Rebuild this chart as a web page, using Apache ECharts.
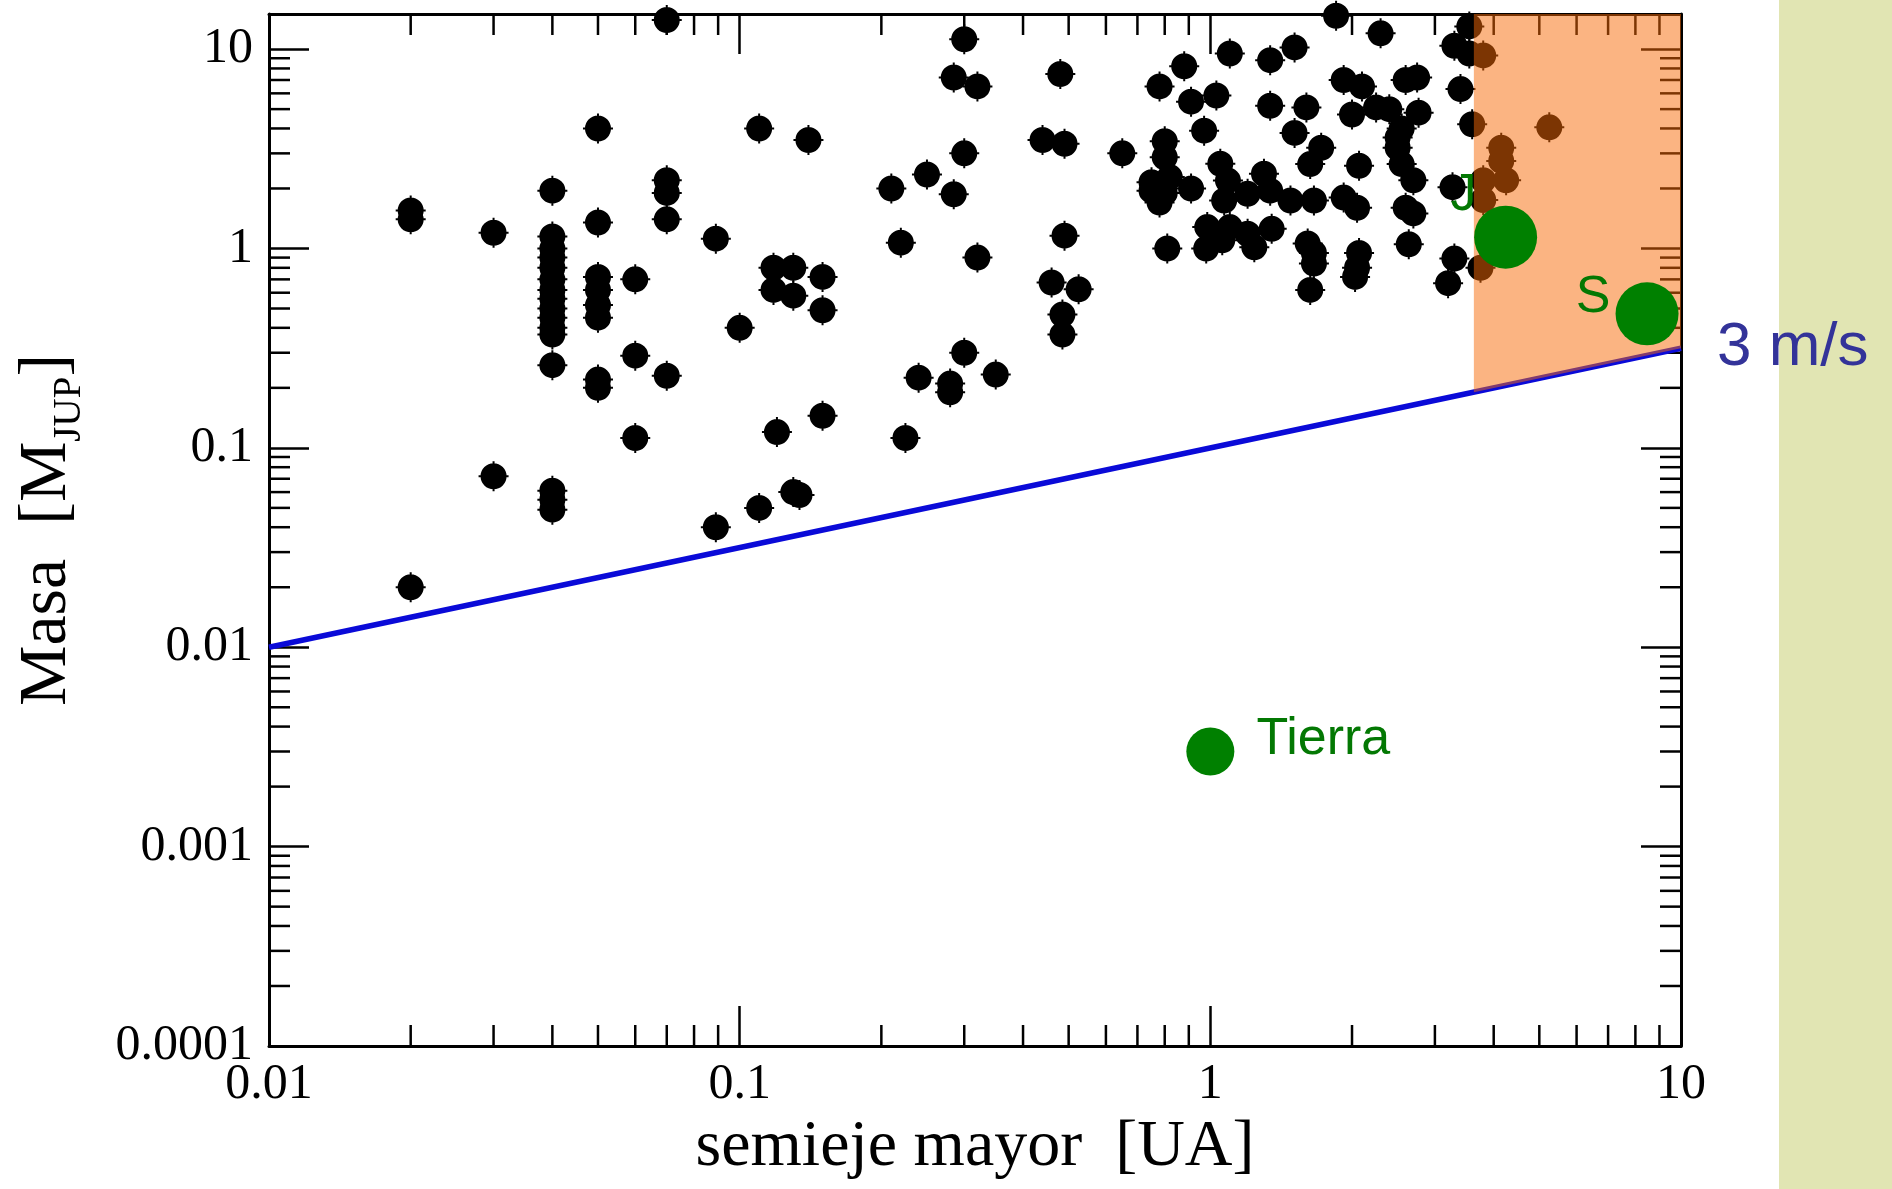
<!DOCTYPE html>
<html>
<head>
<meta charset="utf-8">
<script src="https://cdn.jsdelivr.net/npm/echarts@6/dist/echarts.min.js"></script>
<style>
html,body{margin:0;padding:0;background:#fff;}
#chart{width:1892px;height:1189px;}
</style>
</head>
<body>
<div id="chart"></div>
<script>
// ---------------- DATA ----------------
const xTickLabels = ['0.01', '0.1', '1', '10'];
const yTickLabels = ['0.0001', '0.001', '0.01', '0.1', '1', '10'];
const xMinorTicks = [0.02,0.03,0.04,0.05,0.06,0.07,0.08,0.09,
                     0.2,0.3,0.4,0.5,0.6,0.7,0.8,0.9,
                     2,3,4,5,6,7,8,9];
const yMinorTicks = [0.0002,0.0003,0.0004,0.0005,0.0006,0.0007,0.0008,0.0009,
                     0.002,0.003,0.004,0.005,0.006,0.007,0.008,0.009,
                     0.02,0.03,0.04,0.05,0.06,0.07,0.08,0.09,
                     0.2,0.3,0.4,0.5,0.6,0.7,0.8,0.9,
                     2,3,4,5,6,7,8,9];
const xRange = [0.01, 10];
const yRange = [0.0001, 15];

// exoplanets: [semieje mayor (UA), masa (M_JUP)]
const exoplanets = [
  [0.02,1.4],[0.02,1.55],[0.02,0.02],
  [0.03,1.2],[0.03,0.072],
  [0.04,1.95],[0.04,1.15],[0.04,1.0],[0.04,0.9],[0.04,0.8],[0.04,0.7],[0.04,0.62],[0.04,0.56],
  [0.04,0.5],[0.04,0.45],[0.04,0.4],[0.04,0.37],[0.04,0.26],[0.04,0.061],[0.04,0.055],[0.04,0.049],
  [0.05,4.0],[0.05,1.35],[0.05,0.72],[0.05,0.62],[0.05,0.52],[0.05,0.45],[0.05,0.22],[0.05,0.2],
  [0.06,0.7],[0.06,0.29],[0.06,0.112],
  [0.07,14],[0.07,2.2],[0.07,1.9],[0.07,1.4],[0.07,0.23],
  [0.089,1.12],[0.089,0.04],[0.1,0.4],[0.11,4.0],[0.11,0.05],
  [0.118,0.8],[0.13,0.8],[0.118,0.62],[0.13,0.58],[0.12,0.12],[0.13,0.06],[0.134,0.058],
  [0.14,3.5],[0.15,0.72],[0.15,0.49],[0.15,0.145],
  [0.21,2.0],[0.22,1.07],[0.225,0.112],[0.24,0.225],[0.25,2.35],[0.28,0.21],[0.28,0.19],
  [0.285,7.2],[0.285,1.87],[0.3,11.2],[0.3,3.0],[0.3,0.3],[0.32,6.5],[0.32,0.9],[0.35,0.233],
  [0.44,3.5],[0.49,3.35],[0.46,0.675],[0.525,0.625],[0.485,0.466],[0.485,0.37],[0.48,7.5],[0.49,1.16],[0.65,3.0],
  [0.78,6.5],[0.88,8.2],[0.91,5.45],[0.97,3.9],[0.8,3.45],[0.8,2.87],[0.75,2.15],[0.82,2.28],[0.91,2.0],
  [0.78,1.7],[0.8,1.9],[0.75,1.95],[0.81,1.0],[0.98,1.0],[0.985,1.28],
  [1.03,5.85],[1.1,9.5],[1.34,8.8],[1.51,10.2],[1.34,5.2],[1.6,5.1],[1.05,2.66],[1.09,2.19],[1.07,1.74],
  [1.3,2.37],[1.2,1.88],[1.34,1.95],[1.48,1.74],[1.66,1.74],[1.72,3.2],[1.63,2.65],[1.51,3.8],[1.1,1.28],
  [1.2,1.185],[1.35,1.255],[1.24,1.015],[1.06,1.1],[1.61,1.06],[1.66,0.95],[1.66,0.84],[1.63,0.62],
  [1.85,14.7],[1.92,7.0],[1.92,1.8],
  [2.1,6.5],[2.3,12],[2.0,4.7],[2.25,5.1],[2.4,5.0],[2.6,7.0],[2.75,7.2],[2.77,4.8],[2.55,4.0],[2.5,3.6],
  [2.5,3.2],[2.55,2.65],[2.7,2.2],[2.07,2.6],[2.05,1.6],[2.6,1.6],[2.7,1.5],[2.07,0.95],[2.05,0.8],[2.03,0.72],
  [2.64,1.05],[3.27,2.03],[3.3,0.89],[3.2,0.67],[3.75,0.8],[3.4,6.3],[3.6,4.2],[3.55,13],[3.3,10.4],[3.55,9.5],[3.8,9.3],
  [5.25,4.05],[4.15,3.2],[4.15,2.75],[4.25,2.2],[3.8,2.2],[3.8,1.75]
];

// Solar system planets
const solarNames = ['Tierra', 'J', 'S'];
const solarA = [1.0, 4.24, 8.47];
const solarM = [0.003, 1.14, 0.47];

// 3 m/s detection limit line
const limitA = [0.01, 10];
const limitM = [0.01, 0.316];
const limitLabel = '3 m/s';

// shaded zone (a > 3.63 UA, above the limit)
const zoneA = [3.63, 10, 10, 3.63];
const zoneM = [15, 15, 0.316, 0.19];

// ---------------- STYLE ----------------
const serif = "'Liberation Serif','Times New Roman',serif";
const sans = "'Liberation Sans',Arial,sans-serif";
const majorLen = 40, minorLen = 21, tickW = 2.5;
const planetStyle = {
  'Tierra': {size: 48, offset: [113, -12]},
  'J': {size: 63, offset: [-42, -41]},
  'S': {size: 63, offset: [-54, -16]}
};
const dotPath = 'path://M2,15A13,13 0 1 1 28,15A13,13 0 1 1 2,15Z M14,0h2v3h-2Z M14,27h2v3h-2Z M0,14h3v2h-3Z M27,14h3v2h-3Z';

function powerLabel(labels, minVal) {
  return function (v) {
    const l = Math.log10(v);
    const r = Math.round(l);
    if (Math.abs(l - r) > 1e-6) return '';
    return labels[r - Math.round(Math.log10(minVal))] || '';
  };
}

function axisCommon(extra) {
  return Object.assign({
    type: 'log', logBase: 10,
    axisLine: {show: true, onZero: false, lineStyle: {color: '#000', width: 3}},
    axisTick: {show: true, inside: true, length: majorLen, lineStyle: {color: '#000', width: tickW}},
    splitLine: {show: false},
    minorTick: {show: false},
    minorSplitLine: {show: false}
  }, extra);
}

const chart = echarts.init(document.getElementById('chart'), null, {renderer: 'canvas'});

const option = {
  backgroundColor: '#ffffff',
  animation: false,
  graphic: [{
    type: 'rect', right: 0, top: 0, z: -10,
    shape: {width: 113, height: 1189},
    style: {fill: '#e1e5b3'}
  }],
  grid: {left: 269, top: 14, width: 1412, height: 1032, containLabel: false, outerBoundsMode: 'none'},
  xAxis: [
    axisCommon({
      position: 'bottom', min: xRange[0], max: xRange[1],
      axisLabel: {show: true, margin: 14, color: '#000', fontSize: 50, fontFamily: serif,
        formatter: powerLabel(xTickLabels, xRange[0]), hideOverlap: false},
      name: 'semieje mayor  [UA]', nameLocation: 'middle', nameGap: 69, nameMoveOverlap: false,
      nameTextStyle: {color: '#000', fontSize: 66, fontFamily: serif}
    }),
    axisCommon({
      position: 'top', min: xRange[0], max: xRange[1],
      axisLabel: {show: false}
    })
  ],
  yAxis: [
    axisCommon({
      position: 'left', min: yRange[0], max: yRange[1],
      axisLabel: {show: true, margin: 16, color: '#000', fontSize: 50, fontFamily: serif,
        formatter: powerLabel(yTickLabels, yRange[0]), hideOverlap: false},
      name: 'Masa  [M{sub|JUP}]', nameLocation: 'middle', nameGap: 180, nameMoveOverlap: false,
      nameTextStyle: {color: '#000', fontSize: 68, fontFamily: serif,
        rich: {sub: {color: '#000', fontSize: 39, fontFamily: serif, padding: [44, 0, 0, 0]}}}
    }),
    axisCommon({
      position: 'right', min: yRange[0], max: yRange[1],
      axisLabel: {show: false}
    })
  ],
  series: [
    {
      type: 'custom', name: 'xminor', coordinateSystem: 'cartesian2d', silent: true, z: 1,
      data: xMinorTicks.map(v => [v, yRange[0]]),
      renderItem: function (params, api) {
        const v = api.value(0);
        const b = api.coord([v, yRange[0]]);
        const t = api.coord([v, yRange[1]]);
        return {type: 'group', children: [
          {type: 'line', shape: {x1: b[0], y1: b[1], x2: b[0], y2: b[1] - minorLen}, style: {stroke: '#000', lineWidth: tickW}},
          {type: 'line', shape: {x1: t[0], y1: t[1], x2: t[0], y2: t[1] + minorLen}, style: {stroke: '#000', lineWidth: tickW}}
        ]};
      }
    },
    {
      type: 'custom', name: 'yminor', coordinateSystem: 'cartesian2d', silent: true, z: 1,
      data: yMinorTicks.map(v => [xRange[0], v]),
      renderItem: function (params, api) {
        const v = api.value(1);
        const l = api.coord([xRange[0], v]);
        const r = api.coord([xRange[1], v]);
        return {type: 'group', children: [
          {type: 'line', shape: {x1: l[0], y1: l[1], x2: l[0] + minorLen, y2: l[1]}, style: {stroke: '#000', lineWidth: tickW}},
          {type: 'line', shape: {x1: r[0], y1: r[1], x2: r[0] - minorLen, y2: r[1]}, style: {stroke: '#000', lineWidth: tickW}}
        ]};
      }
    },
    {
      type: 'line', name: 'limit', z: 2,
      data: limitA.map((a, i) => [a, limitM[i]]),
      symbol: 'none', clip: false,
      lineStyle: {color: '#0a0ad8', width: 5.5},
      endLabel: {show: true, formatter: limitLabel, distance: 36, color: '#333399',
        fontSize: 62, fontFamily: sans}
    },
    {
      type: 'scatter', name: 'exoplanetas', z: 2,
      data: exoplanets,
      symbol: dotPath, symbolSize: 30,
      itemStyle: {color: '#000', opacity: 1}
    },
    {
      type: 'custom', name: 'zona', coordinateSystem: 'cartesian2d', silent: true, z: 3,
      data: [[zoneA[0], zoneM[0]]],
      renderItem: function (params, api) {
        const pts = zoneA.map((a, i) => api.coord([a, zoneM[i]]));
        return {type: 'polygon', shape: {points: pts}, style: {fill: 'rgba(247,105,5,0.5)'}};
      }
    },
    {
      type: 'scatter', name: 'sistema solar', z: 4,
      data: solarNames.map((n, i) => ({
        name: n, value: [solarA[i], solarM[i]],
        symbolSize: planetStyle[n].size,
        label: {show: true, formatter: n, position: 'inside', offset: planetStyle[n].offset,
          color: '#037803', fontSize: 52, fontFamily: sans}
      })),
      symbol: 'circle',
      itemStyle: {color: '#008000', opacity: 1}
    }
  ]
};
chart.setOption(option);
</script>
</body>
</html>
